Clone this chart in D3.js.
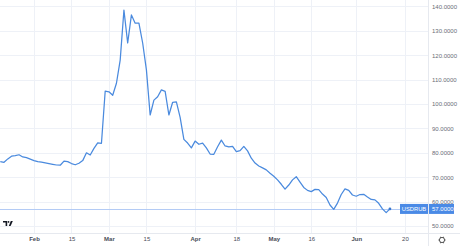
<!DOCTYPE html>
<html><head><meta charset="utf-8">
<script src="https://cdn.jsdelivr.net/npm/d3@7"></script>
<style>
html,body{margin:0;padding:0;background:#fff;}
svg{display:block;font-family:"Liberation Sans",Arial,sans-serif;}
</style></head>
<body>
<svg id="chart" width="460" height="246"></svg>
<script>
// ---- data ----
const symbol = "USDRUB";
const startDate = "2022-01-19"; // first trading day shown (weekdays only)
const values = [
  76.4, 76.1, 77.5, 78.6, 78.8, 79.2, 78.3, 78.0, 77.4, 76.8,
  76.4, 76.2, 75.9, 75.6, 75.3, 75.0, 74.9, 76.6, 76.4, 75.6,
  75.1, 75.7, 76.8, 80.0, 79.1, 81.8, 84.1, 83.9, 105.3, 105.0,
  103.6, 108.5, 118.0, 138.5, 125.0, 136.5, 133.1, 133.1, 125.0, 114.0,
  95.5, 101.6, 103.0, 105.8, 105.2, 95.5, 100.7, 100.9, 94.5, 85.5,
  84.0, 82.0, 84.8, 83.5, 84.0, 82.0, 79.5, 79.4, 82.5, 85.2,
  82.8, 82.4, 82.6, 80.5, 80.9, 82.6, 80.8, 77.8, 75.8, 74.6,
  73.8, 73.0, 71.6, 70.4, 68.9, 67.1, 65.1, 66.8, 68.9, 70.2,
  68.0, 65.8, 64.6, 64.1, 65.0, 64.9, 63.1, 61.7, 58.6, 56.8,
  59.4, 62.9, 65.2, 64.6, 62.7, 62.2, 62.9, 63.0, 61.9, 60.9,
  60.7, 59.3, 57.0, 55.5, 57.0
];
const lastValue = 57.0;
const xTickDates  = ["2022-02-01","2022-02-15","2022-03-01","2022-03-15","2022-04-01","2022-04-18","2022-05-02","2022-05-16","2022-06-01","2022-06-20"];
const xTickLabels = ["Feb","15","Mar","15","Apr","18","May","16","Jun","20"];
const xTickIsMonth = [true,false,true,false,true,false,true,false,true,false];
const yTicks = [50,60,70,80,90,100,110,120,130,140];

// trading-day calendar (weekdays)
const dates = [];
{
  let d = new Date(startDate + "T00:00:00Z");
  while (dates.length < 115) {
    const wd = d.getUTCDay();
    if (wd !== 0 && wd !== 6) dates.push(d.toISOString().slice(0,10));
    d = new Date(d.getTime() + 86400000);
  }
}
const idxOf = s => dates.indexOf(s);

// ---- layout ----
const W = 460, H = 246;
const plotRight = 428, plotBottom = 233;
const svg = d3.select("#chart");

const x = d3.scaleLinear().domain([0, 114]).range([0.3, 427.4]);
const y = d3.scaleLinear().domain([50, 140]).range([226, 6.4]);

// grid
const grid = svg.append("g");
grid.selectAll("line.h").data(yTicks).join("line")
  .attr("x1", 0).attr("x2", plotRight)
  .attr("y1", d => Math.round(y(d)) + 0.5).attr("y2", d => Math.round(y(d)) + 0.5)
  .attr("stroke", "#eef1f7").attr("stroke-width", 1);
grid.selectAll("line.v").data(xTickDates).join("line")
  .attr("x1", d => Math.round(x(idxOf(d))) + 0.5).attr("x2", d => Math.round(x(idxOf(d))) + 0.5)
  .attr("y1", 0).attr("y2", plotBottom)
  .attr("stroke", "#eef1f7").attr("stroke-width", 1);

// separators
svg.append("line").attr("x1", 0).attr("x2", W).attr("y1", plotBottom + 0.5).attr("y2", plotBottom + 0.5)
  .attr("stroke", "#e6e9ef");
svg.append("line").attr("x1", plotRight + 0.5).attr("x2", plotRight + 0.5).attr("y1", 0).attr("y2", H)
  .attr("stroke", "#e6e9ef");

// price line
svg.append("line").attr("x1", 0).attr("x2", plotRight)
  .attr("y1", Math.round(y(lastValue)) + 0.5).attr("y2", Math.round(y(lastValue)) + 0.5)
  .attr("stroke", "#b3cbf5").attr("stroke-width", 1);

// series line
const line = d3.line().x((d, i) => x(i)).y(d => y(d));
svg.append("path").datum(values)
  .attr("d", line).attr("fill", "none")
  .attr("stroke", "#4a8ade").attr("stroke-width", 1.25)
  .attr("stroke-linejoin", "round");
svg.append("circle")
  .attr("cx", x(values.length - 1)).attr("cy", y(values[values.length - 1]))
  .attr("r", 1.4).attr("fill", "#3a78d0");

// y axis labels
const yAxis = d3.axisRight(y).tickValues(yTicks).tickFormat(d3.format(".4f")).tickSize(0).tickPadding(0);
const gy = svg.append("g").attr("transform", `translate(${plotRight + 4},0)`).call(yAxis);
gy.select(".domain").remove();
gy.selectAll("text").attr("fill", "#6a6d78").attr("font-size", 6).attr("font-family", "\"Liberation Sans\",Arial,sans-serif");

// x axis labels
const xAxis = d3.axisBottom(x).tickValues(xTickDates.map(idxOf))
  .tickFormat((d, i) => xTickLabels[i]).tickSize(0).tickPadding(0);
const gx = svg.append("g").attr("transform", `translate(0,${plotBottom + 4})`).call(xAxis);
gx.select(".domain").remove();
gx.selectAll("text").attr("fill", "#4a4d58").attr("font-size", 6)
  .attr("font-weight", (d, i) => xTickIsMonth[i] ? 700 : 400)
  .attr("font-family", "\"Liberation Sans\",Arial,sans-serif");

// last value labels
const ly = y(lastValue);
svg.append("rect").attr("x", 400).attr("y", ly - 5).attr("width", 28).attr("height", 10).attr("fill", "#4a8ae6");
svg.append("text").attr("x", 414).attr("y", ly + 2).attr("text-anchor", "middle")
  .attr("fill", "#fff").attr("font-size", 5.8).text(symbol);
svg.append("rect").attr("x", plotRight + 1).attr("y", ly - 5).attr("width", 25).attr("height", 10).attr("fill", "#4a8ae6");
svg.append("text").attr("x", plotRight + 4).attr("y", ly + 2)
  .attr("fill", "#fff").attr("font-size", 6).text(d3.format(".4f")(lastValue));

// TV logo
const logo = svg.append("g").attr("transform", "translate(3,221)").attr("fill", "#131722");
logo.append("path").attr("d", "M0 0 H4.2 V5 H2.6 V1.4 H0 Z");
logo.append("circle").attr("cx", 5.5).attr("cy", 0.9).attr("r", 0.9);
logo.append("path").attr("d", "M7.8 0 H9.8 L7.6 5 H5.8 Z");

// settings gear
const gear = svg.append("g").attr("transform", "translate(442,240)");
gear.append("circle").attr("r", 2.6).attr("fill", "none").attr("stroke", "#555").attr("stroke-width", 1);
gear.selectAll("line").data(d3.range(6)).join("line")
  .attr("x1", d => Math.cos(d * Math.PI / 3) * 2.6).attr("y1", d => Math.sin(d * Math.PI / 3) * 2.6)
  .attr("x2", d => Math.cos(d * Math.PI / 3) * 3.6).attr("y2", d => Math.sin(d * Math.PI / 3) * 3.6)
  .attr("stroke", "#555").attr("stroke-width", 1.1);
</script>
</body></html>
